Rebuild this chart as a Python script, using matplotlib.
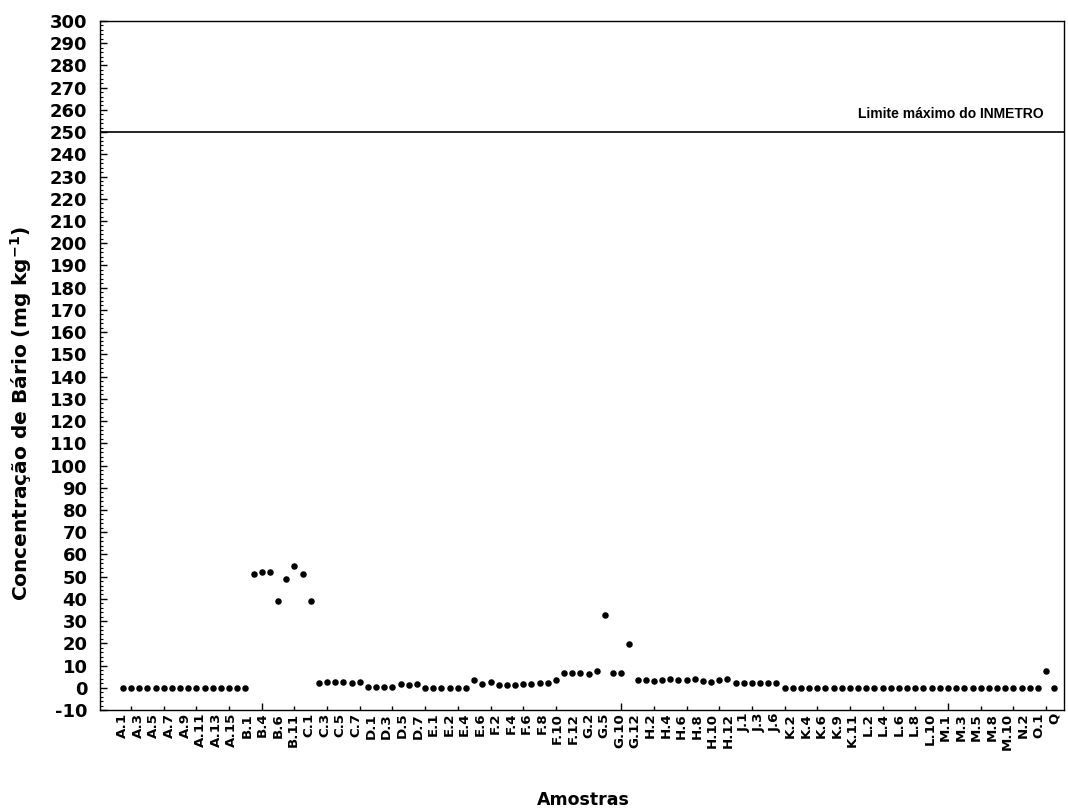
import numpy as np
import matplotlib
matplotlib.use("Agg")
import matplotlib.pyplot as plt
from matplotlib.ticker import MultipleLocator, FixedLocator, NullFormatter

plt.rcParams["font.family"] = ["DejaVu Sans"]
plt.rcParams["font.weight"] = "bold"
plt.rcParams["axes.unicode_minus"] = False

# Barium concentration per sample (mg/kg), in sample order
group_a = [0] * 16
group_b = [51, 52, 52, 39, 49, 55, 51, 39]
group_c = [2.2, 2.4, 2.4, 2.6, 2.2, 2.4]
group_d = [0.3, 0.3, 0.3, 0.3, 1.7, 1.3, 1.8]
group_e = [0, 0, 0, 0, 0, 0, 3.5, 1.7, 2.7]
group_f = [1.3, 1.3, 1.3, 1.7, 1.7, 2.0, 2.3, 3.5, 6.5, 6.8, 6.8, 6.1, 7.6]
group_g = [32.7, 6.8, 6.8, 19.6]
group_h = [3.5, 3.5, 3.0, 3.5, 3.8, 3.5, 3.5, 3.8, 3.0, 2.7, 3.6, 3.8]
group_j = [2.0, 2.2, 2.0, 2.0, 2.2, 2.0]
group_klmn = [0] * 32
group_o = [7.7]
group_q = [0]

concentration = (group_a + group_b + group_c + group_d + group_e + group_f
                 + group_g + group_h + group_j + group_klmn + group_o + group_q)

tick_labels = [
    "A.1", "A.3", "A.5", "A.7", "A.9", "A.11", "A.13", "A.15",
    "B.1", "B.4", "B.6", "B.11",
    "C.1", "C.3", "C.5", "C.7",
    "D.1", "D.3", "D.5", "D.7",
    "E.1", "E.2", "E.4", "E.6",
    "F.2", "F.4", "F.6", "F.8", "F.10", "F.12",
    "G.2", "G.5", "G.10", "G.12",
    "H.2", "H.4", "H.6", "H.8", "H.10", "H.12",
    "J.1", "J.3", "J.6",
    "K.2", "K.4", "K.6", "K.9", "K.11",
    "L.2", "L.4", "L.6", "L.8", "L.10",
    "M.1", "M.3", "M.5", "M.8", "M.10",
    "N.2", "O.1", "Q",
]

limit_value = 250
limit_text = "Limite máximo do INMETRO"


def main():
    n = len(concentration)
    x = np.arange(n)

    fig = plt.figure(figsize=(10.68, 8.11), dpi=100)
    ax = fig.add_axes([100 / 1068, 1 - 710 / 811, 964 / 1068, 689 / 811])

    ax.scatter(x, concentration, s=22, color="black", zorder=3, linewidths=0)
    ax.axhline(limit_value, color="black", lw=1.2)
    ax.text(n - 2.3, limit_value + 5, limit_text, ha="right", va="bottom",
            fontsize=10, fontweight="bold", family="Liberation Sans")

    ax.set_xlim(-2.8, n + 0.2)
    ax.set_ylim(-10, 300)

    # y axis
    ax.yaxis.set_major_locator(MultipleLocator(10))
    ax.yaxis.set_minor_locator(MultipleLocator(2))
    ax.tick_params(axis="y", which="major", direction="in", length=5, width=1,
                   labelsize=13, pad=9)
    ax.tick_params(axis="y", which="minor", direction="in", length=2.5, width=0.8)

    # x axis: labels spread along the samples, marks every 4 samples
    ax.xaxis.set_major_locator(FixedLocator(np.linspace(0, n - 1, len(tick_labels))))
    ax.set_xticklabels(tick_labels, rotation=90, fontsize=9.6, fontweight="bold")
    ax.xaxis.set_minor_locator(FixedLocator(np.arange(1, n, 4)))
    ax.xaxis.set_minor_formatter(NullFormatter())
    ax.tick_params(axis="x", which="major", length=0, pad=2)
    ax.tick_params(axis="x", which="minor", direction="in", length=3, width=1)
    for pos, tick in zip(np.arange(1, n, 4), ax.xaxis.get_minor_ticks()):
        if pos % 40 == 17:
            tick.tick1line.set_markersize(5)

    for lbl in ax.get_yticklabels():
        lbl.set_fontweight("bold")

    for sp in ax.spines.values():
        sp.set_linewidth(1)

    ax.set_ylabel("Concentração de Bário (mg kg$^{\\mathbf{-1}}$)", fontsize=14.5,
                  fontweight="bold")
    ax.yaxis.set_label_coords(-0.068, 0.43)
    fig.text(583 / 1068, 1 - 800 / 811, "Amostras", ha="center", va="center",
             fontsize=12.5, fontweight="bold")

    fig.savefig("out.png", dpi=100)
    plt.close(fig)


if __name__ == "__main__":
    main()
